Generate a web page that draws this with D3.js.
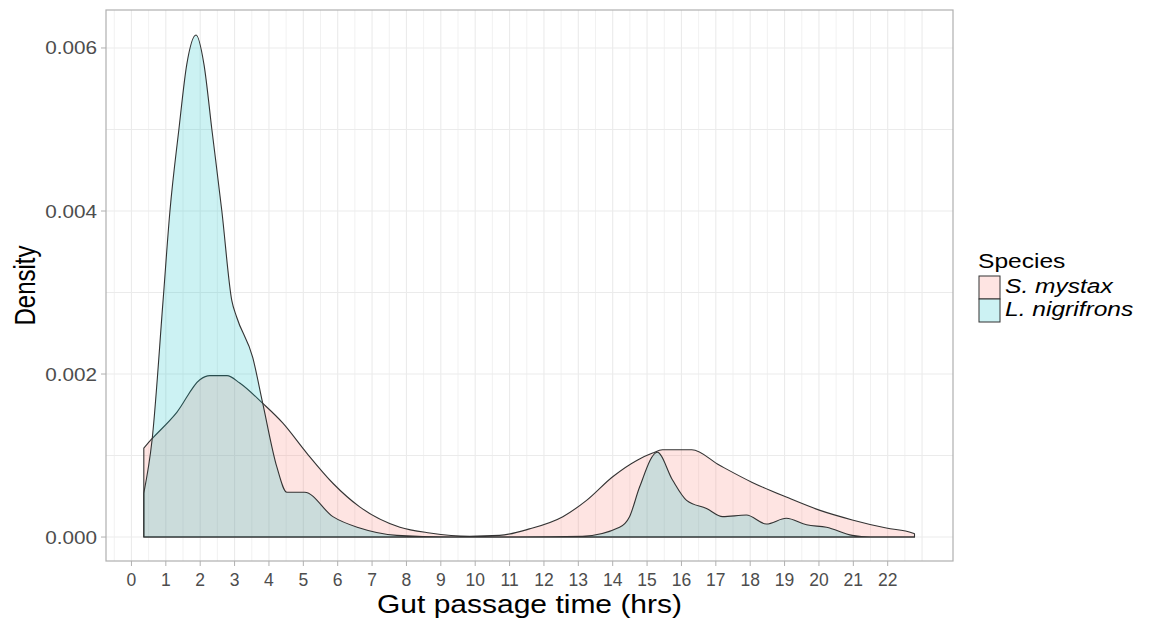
<!DOCTYPE html>
<html>
<head>
<meta charset="utf-8">
<script src="https://cdn.jsdelivr.net/npm/d3@7"></script>
<style>
  body { margin: 0; background: #fff; }
  text { font-family: "Liberation Sans", Arial, sans-serif; }
</style>
</head>
<body>
<svg id="chart" width="1152" height="624"></svg>
<script>
// gut passage time in hours, density values
const mystaxHrs = [0.36, 0.54, 0.63, 1.32, 1.99, 2.28, 2.78, 3.15, 3.82, 4.40, 5.10, 5.86, 6.64, 7.81, 8.68, 9.84, 10.71, 11.58, 12.55, 13.24, 14.00, 14.70, 15.16, 15.45, 16.30, 17.11, 18.06, 19.05, 20.01, 20.97, 21.96, 22.72, 22.78];
const mystaxDensity = [0.00109, 0.00118, 0.00122, 0.00153, 0.00193, 0.00198, 0.00198, 0.00189, 0.00164, 0.0014, 0.00103, 0.00066, 0.00037, 0.00012, 0.00005, 0.00001, 0.00002, 0.0001, 0.00025, 0.00045, 0.00074, 0.00094, 0.00103, 0.00107, 0.00107, 0.00088, 0.00067, 0.00049, 0.00033, 0.00021, 0.00011, 0.00005, 0.00004];

const nigriHrs = [0.36, 0.60, 0.92, 1.12, 1.38, 1.61, 1.88, 2.11, 2.34, 2.63, 2.92, 3.06, 3.53, 3.82, 4.23, 4.52, 5.04, 5.86, 6.64, 7.72, 9.26, 11.2, 13.12, 14.20, 14.49, 14.78, 15.30, 15.74, 16.15, 16.73, 17.20, 17.89, 18.47, 19.05, 19.64, 20.22, 20.97, 21.5, 22.78];
const nigriDensity = [0.00054, 0.00119, 0.0029, 0.004, 0.005, 0.0058, 0.00616, 0.0058, 0.005, 0.004, 0.0029, 0.0027, 0.0022, 0.00164, 0.00086, 0.00055, 0.00055, 0.00025, 0.00011, 0.00002, 0, 0, 0.00001, 0.00012, 0.00025, 0.00061, 0.00104, 0.0007, 0.00045, 0.00035, 0.00025, 0.00027, 0.00016, 0.00023, 0.00015, 0.00012, 0.00002, 0, 0];

const xTickLabels = ["0","1","2","3","4","5","6","7","8","9","10","11","12","13","14","15","16","17","18","19","20","21","22"];
const yTicks = [0, 0.002, 0.004, 0.006];
const yTickLabels = ["0.000", "0.002", "0.004", "0.006"];
const species = ["S. mystax", "L. nigrifrons"];
const fills = ["rgba(248,118,109,0.2)", "rgba(0,191,196,0.2)"];

const svg = d3.select("#chart");
const pLeft = 106, pRight = 953, pTop = 10, pBottom = 561;

const x = d3.scaleLinear().domain([-0.74, 23.9]).range([pLeft, pRight]);
const y = d3.scaleLinear().domain([-0.000294, 0.006466]).range([pBottom, pTop]);

svg.append("rect").attr("width", 1152).attr("height", 624).attr("fill", "#fff");

// grid
const grid = svg.append("g");
const vLines = d3.range(-0.5, 23.01, 0.5);
grid.selectAll("line.v").data(vLines).enter().append("line")
  .attr("x1", d => x(d)).attr("x2", d => x(d))
  .attr("y1", pTop).attr("y2", pBottom)
  .attr("stroke", "#ebebeb").attr("stroke-width", d => d % 1 === 0 ? 1.1 : 0.7);
const hLines = [0, 0.001, 0.002, 0.003, 0.004, 0.005, 0.006];
grid.selectAll("line.h").data(hLines).enter().append("line")
  .attr("x1", pLeft).attr("x2", pRight)
  .attr("y1", d => y(d)).attr("y2", d => y(d))
  .attr("stroke", "#ebebeb").attr("stroke-width", 1.1);

// density areas
const area = d3.area()
  .x(d => x(d[0]))
  .y0(y(0))
  .y1(d => y(d[1]))
  .curve(d3.curveMonotoneX);

const series = [
  d3.zip(mystaxHrs, mystaxDensity),
  d3.zip(nigriHrs, nigriDensity)
];

svg.append("g").selectAll("path").data(series).enter().append("path")
  .attr("d", d => area(d) + "Z")
  .attr("fill", (d, i) => fills[i])
  .attr("stroke", "#333")
  .attr("stroke-width", 1.1)
  .attr("stroke-linejoin", "round");

// panel border
svg.append("rect")
  .attr("x", pLeft).attr("y", pTop)
  .attr("width", pRight - pLeft).attr("height", pBottom - pTop)
  .attr("fill", "none").attr("stroke", "#b0b0b0").attr("stroke-width", 1.2);

// x ticks
const xt = svg.append("g");
xTickLabels.forEach((lab, i) => {
  xt.append("line").attr("x1", x(i)).attr("x2", x(i))
    .attr("y1", pBottom).attr("y2", pBottom + 5)
    .attr("stroke", "#b0b0b0");
  xt.append("text")
    .attr("x", x(i)).attr("y", 585.5)
    .attr("text-anchor", "middle")
    .attr("font-size", 17.5).attr("fill", "#4d4d4d")
    .text(lab);
});

// y ticks
const yt = svg.append("g");
yTicks.forEach((v, i) => {
  yt.append("line").attr("x1", pLeft - 5).attr("x2", pLeft)
    .attr("y1", y(v)).attr("y2", y(v))
    .attr("stroke", "#b0b0b0");
  yt.append("text")
    .attr("transform", `translate(97,${y(v) + 6.5}) scale(1.15,1)`)
    .attr("text-anchor", "end")
    .attr("font-size", 18).attr("fill", "#4d4d4d")
    .text(yTickLabels[i]);
});

// axis titles
svg.append("text")
  .attr("transform", `translate(${(pLeft + pRight) / 2},612.5) scale(1.2,1)`)
  .attr("text-anchor", "middle")
  .attr("font-size", 25).attr("fill", "#000")
  .text("Gut passage time (hrs)");

svg.append("text")
  .attr("transform", `translate(35,${(pTop + pBottom) / 2}) rotate(-90) scale(1,1.2)`)
  .attr("text-anchor", "middle")
  .attr("font-size", 24).attr("fill", "#000")
  .text("Density");

// legend
const lg = svg.append("g");
lg.append("text")
  .attr("transform", "translate(978,268) scale(1.17,1)")
  .attr("font-size", 21).attr("fill", "#000")
  .text("Species");
species.forEach((s, i) => {
  const ky = 276 + i * 23;
  lg.append("rect").attr("x", 979).attr("y", ky)
    .attr("width", 21).attr("height", 23)
    .attr("fill", "#fff");
  lg.append("rect").attr("x", 979).attr("y", ky)
    .attr("width", 21).attr("height", 23)
    .attr("fill", fills[i]).attr("stroke", "#333").attr("stroke-width", 1);
  lg.append("text")
    .attr("transform", `translate(1005,${ky + 17}) scale(1.17,1)`)
    .attr("font-size", 21).attr("font-style", "italic").attr("fill", "#000")
    .text(s);
});
</script>
</body>
</html>
